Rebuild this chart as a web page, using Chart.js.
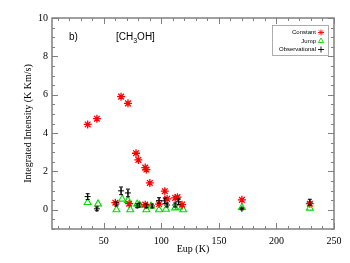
<!DOCTYPE html>
<html>
<head>
<meta charset="utf-8">
<script src="https://cdn.jsdelivr.net/npm/chart.js@4.4.0/dist/chart.umd.min.js"></script>
<style>
  html, body { margin: 0; padding: 0; background: #fff; }
  #wrap { width: 350px; height: 263px; }
</style>
</head>
<body>
<div id="wrap"><canvas id="chart" width="350" height="263"></canvas></div>
<script>
// Values
const constX = [36, 44, 65, 71, 78, 80, 86, 87, 90, 103, 105, 112, 114, 118, 170, 229, 60, 72, 86, 98];
const constY = [4.45, 4.75, 5.9, 5.55, 2.95, 2.6, 2.2, 2.1, 1.4, 0.97, 0.57, 0.62, 0.66, 0.27, 0.52, 0.32, 0.37, 0.32, 0.27, 0.3];

const jumpX = [36, 45, 61, 66, 71, 73, 79, 81, 87, 91, 98, 104, 112, 115, 119, 170, 229];
const jumpY = [0.38, 0.31, 0.0, 0.56, 0.49, 0.0, 0.3, 0.25, 0.0, 0.2, 0.0, 0.03, 0.1, 0.14, 0.0, 0.12, 0.09];

const obsX = [36, 44, 61, 65, 71, 79, 81, 87, 92, 98, 103, 105, 112, 115, 170, 229];
const obsY = [0.69, 0.05, 0.3, 0.99, 0.88, 0.21, 0.25, 0.21, 0.2, 0.48, 0.47, 0.25, 0.25, 0.42, 0.05, 0.4];
const obsErr = [0.15, 0.1, 0.1, 0.2, 0.2, 0.1, 0.1, 0.1, 0.1, 0.15, 0.15, 0.1, 0.1, 0.15, 0.05, 0.15];

const xTicks = [50, 100, 150, 200, 250];
const yTicks = [0, 2, 4, 6, 8, 10];
const seriesNames = ['Constant', 'Jump', 'Observational'];

const toPoints = (xs, ys) => xs.map((x, i) => ({ x: x, y: ys[i] }));

const axisColor = '#808080';

// box with inward ticks on all four sides (IDL style)
const frame = {
  id: 'frame',
  beforeDatasetsDraw(chart) {
    const { ctx, chartArea: a, scales: { x, y } } = chart;
    ctx.save();
    ctx.strokeStyle = axisColor;
    ctx.lineWidth = 1.5;
    ctx.strokeRect(a.left, a.top, a.right - a.left, a.bottom - a.top);
    ctx.lineWidth = 1;
    ctx.beginPath();
    for (let v = 10; v <= x.max; v += 10) {
      const px = Math.round(x.getPixelForValue(v)) + 0.5;
      const len = v % 50 === 0 ? 6 : 3;
      ctx.moveTo(px, a.bottom); ctx.lineTo(px, a.bottom - len);
      ctx.moveTo(px, a.top); ctx.lineTo(px, a.top + len);
    }
    for (let v = y.min; v <= y.max + 0.01; v += 0.5) {
      const py = Math.round(y.getPixelForValue(v)) + 0.5;
      const len = yTicks.includes(v) ? 6 : 3;
      ctx.moveTo(a.left, py); ctx.lineTo(a.left + len, py);
      ctx.moveTo(a.right, py); ctx.lineTo(a.right - len, py);
    }
    ctx.stroke();
    ctx.restore();
  },
  afterDatasetsDraw(chart) {
    // error bars on the observed points
    const { ctx, scales: { x, y } } = chart;
    ctx.save();
    ctx.strokeStyle = '#000';
    ctx.lineWidth = 1;
    ctx.beginPath();
    obsX.forEach((v, i) => {
      const px = x.getPixelForValue(v);
      const top = y.getPixelForValue(obsY[i] + obsErr[i]);
      const bot = y.getPixelForValue(obsY[i] - obsErr[i]);
      ctx.moveTo(px, top); ctx.lineTo(px, bot);
      ctx.moveTo(px - 2, top); ctx.lineTo(px + 2, top);
      ctx.moveTo(px - 2, bot); ctx.lineTo(px + 2, bot);
    });
    ctx.stroke();
    ctx.restore();
  },
  afterDraw(chart) {
    const { ctx } = chart;
    ctx.save();
    // panel label and species
    ctx.fillStyle = '#000';
    ctx.font = '10px "Liberation Sans", Arial, sans-serif';
    ctx.textBaseline = 'alphabetic';
    ctx.textAlign = 'left';
    ctx.fillText('b)', 69, 40);
    let tx = 116;
    ctx.fillText('[CH', tx, 40);
    tx += ctx.measureText('[CH').width;
    ctx.font = '7px "Liberation Sans", Arial, sans-serif';
    ctx.fillText('3', tx, 43);
    tx += ctx.measureText('3').width;
    ctx.font = '10px "Liberation Sans", Arial, sans-serif';
    ctx.fillText('OH]', tx, 40);

    // legend box, text right-aligned with symbol on the right
    ctx.strokeStyle = '#999';
    ctx.lineWidth = 0.8;
    ctx.strokeRect(272.5, 25.5, 56, 30);
    ctx.font = '6px "Liberation Sans", Arial, sans-serif';
    ctx.textAlign = 'right';
    ctx.textBaseline = 'middle';
    const rows = [32.5, 41, 49.5];
    chart.data.datasets.forEach((ds, i) => {
      ctx.fillStyle = '#000';
      ctx.fillText(seriesNames[i], 316, rows[i]);
      ctx.strokeStyle = ds.borderColor;
      ctx.fillStyle = 'rgba(0,0,0,0)';
      ctx.lineWidth = 0.9;
      Chart.helpers.drawPoint(ctx, { pointStyle: ds.pointStyle, radius: 3, borderWidth: 0.9, rotation: 0 }, 321, rows[i]);
    });
    ctx.restore();
  }
};

new Chart(document.getElementById('chart'), {
  type: 'scatter',
  data: {
    datasets: [
      {
        label: seriesNames[0],
        data: toPoints(constX, constY),
        pointStyle: 'star',
        radius: 4,
        borderColor: '#ff0000',
        backgroundColor: '#ff0000',
        borderWidth: 1.3
      },
      {
        label: seriesNames[1],
        data: toPoints(jumpX, jumpY),
        pointStyle: 'triangle',
        radius: 4,
        borderColor: '#00dd00',
        backgroundColor: 'rgba(0,0,0,0)',
        borderWidth: 1.1
      },
      {
        label: seriesNames[2],
        data: toPoints(obsX, obsY),
        pointStyle: 'cross',
        radius: 3,
        borderColor: '#000000',
        backgroundColor: '#000000',
        borderWidth: 1
      }
    ]
  },
  options: {
    responsive: false,
    animation: false,
    layout: { padding: { top: 18, right: 16, left: 0, bottom: 0 } },
    plugins: {
      legend: { display: false },
      tooltip: { enabled: false }
    },
    scales: {
      x: {
        type: 'linear',
        min: 5,
        max: 250,
        afterBuildTicks: (s) => { s.ticks = xTicks.map(v => ({ value: v })); },
        afterFit: (s) => { s.height = 34; },
        grid: { display: false, drawTicks: false },
        border: { display: false },
        ticks: {
          padding: 6,
          color: '#000',
          font: { family: '"Liberation Serif", "Times New Roman", serif', size: 10 }
        },
        title: {
          display: true,
          text: 'Eup (K)',
          color: '#000',
          padding: { top: 0, bottom: 8 },
          font: { family: '"Liberation Serif", "Times New Roman", serif', size: 10, lineHeight: 1.2 }
        }
      },
      y: {
        type: 'linear',
        min: -1,
        max: 10,
        afterBuildTicks: (s) => { s.ticks = yTicks.map(v => ({ value: v })); },
        afterFit: (s) => { s.width = 52; },
        grid: { display: false, drawTicks: false },
        border: { display: false },
        ticks: {
          padding: 4,
          color: '#000',
          font: { family: '"Liberation Serif", "Times New Roman", serif', size: 10 }
        },
        title: {
          display: true,
          text: 'Integrated Intensity (K Km/s)',
          color: '#000',
          padding: { top: 22, bottom: 0 },
          font: { family: '"Liberation Serif", "Times New Roman", serif', size: 10, lineHeight: 1.2 }
        }
      }
    }
  },
  plugins: [frame]
});
</script>
</body>
</html>
